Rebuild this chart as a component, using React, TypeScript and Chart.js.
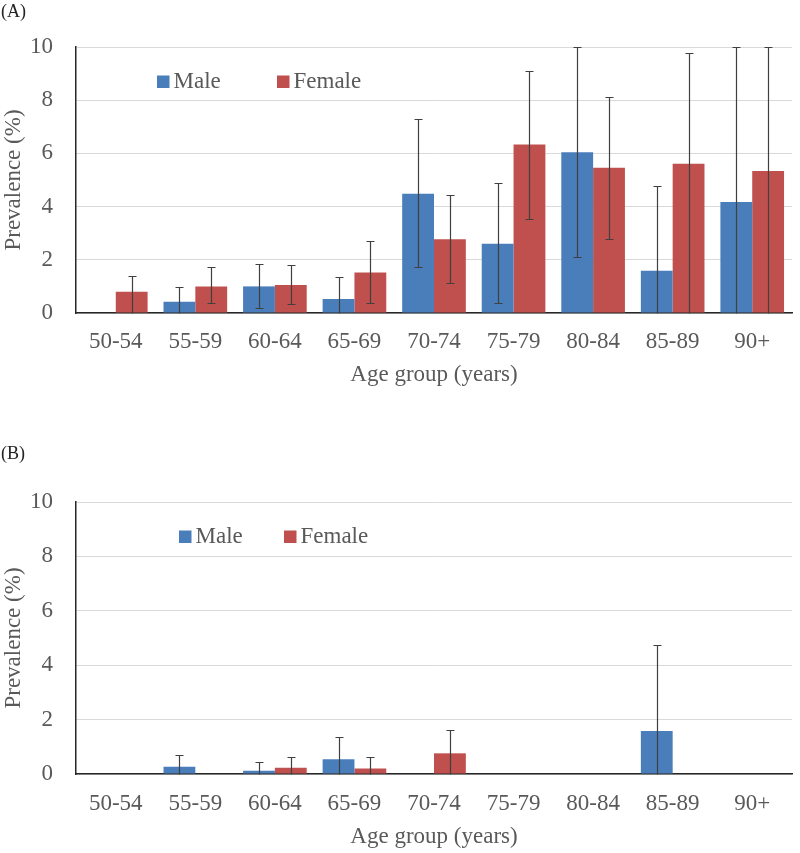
import React, { useEffect, useRef } from "react";
import { Chart, registerables } from "chart.js";

Chart.register(...registerables);

// ---------- data ----------
const categories = ["50-54", "55-59", "60-64", "65-69", "70-74", "75-79", "80-84", "85-89", "90+"];
const yTicks = [0, 2, 4, 6, 8, 10];

// Panel A
const maleA = [0, 0.42, 1.0, 0.53, 4.48, 2.6, 6.04, 1.59, 4.17];
const maleAUpper = [null, 0.97, 1.83, 1.36, 7.29, 4.9, 10, 4.79, 10];
const maleALower = [null, 0, 0.18, 0, 1.72, 0.36, 2.09, 0, 0];
const femaleA = [0.8, 1.0, 1.05, 1.52, 2.77, 6.33, 5.46, 5.61, 5.34];
const femaleAUpper = [1.39, 1.73, 1.8, 2.7, 4.44, 9.11, 8.13, 9.79, 10];
const femaleALower = [0, 0.37, 0.33, 0.37, 1.12, 3.53, 2.79, 0, 0];

// Panel B
const maleB = [0, 0.27, 0.12, 0.54, 0, 0, 0, 1.58, 0];
const maleBUpper = [null, 0.7, 0.45, 1.35, null, null, null, 4.75, null];
const maleBLower = [null, 0, 0, 0, null, null, null, 0, null];
const femaleB = [0, 0, 0.23, 0.2, 0.76, 0, 0, 0, 0];
const femaleBUpper = [null, null, 0.61, 0.61, 1.62, null, null, null, null];
const femaleBLower = [null, null, 0, 0, 0, null, null, null, null];

const seriesNames = ["Male", "Female"];
const xTitle = "Age group (years)";
const yTitle = "Prevalence (%)";

// ---------- style ----------
const BLUE = "#4A7EBB";
const RED = "#C0504D";
const TEXT = "#595959";
const FONT_FAMILY = "'Liberation Serif', 'Times New Roman', serif";

const errorBarPlugin = {
  id: "errorBars",
  afterDatasetsDraw(chart: any, _args: any, opts: any) {
    const { ctx } = chart;
    const y = chart.scales.y;
    const errs = opts.errors || [];
    ctx.save();
    ctx.strokeStyle = "#404040";
    ctx.lineWidth = 1.2;
    chart.data.datasets.forEach((_ds: any, di: number) => {
      const meta = chart.getDatasetMeta(di);
      const e = errs[di];
      if (!e) return;
      meta.data.forEach((bar: any, i: number) => {
        const hi = e.upper[i];
        if (hi == null) return;
        const lo = e.lower[i] ?? 0;
        const x = Math.round(bar.x) + 0.5;
        const yh = Math.round(y.getPixelForValue(hi)) + 0.5;
        const yl = Math.round(y.getPixelForValue(lo)) + 0.5;
        ctx.beginPath();
        ctx.moveTo(x, yh);
        ctx.lineTo(x, yl);
        ctx.moveTo(x - 4, yh);
        ctx.lineTo(x + 4, yh);
        if (lo > 0) {
          ctx.moveTo(x - 4, yl);
          ctx.lineTo(x + 4, yl);
        }
        ctx.stroke();
      });
    });
    ctx.restore();
  },
};

const insideLegendPlugin = {
  id: "insideLegend",
  afterDraw(chart: any, _args: any, opts: any) {
    const { ctx } = chart;
    ctx.save();
    ctx.font = `${opts.fontSize}px ${FONT_FAMILY}`;
    ctx.textBaseline = "alphabetic";
    ctx.textAlign = "left";
    chart.data.datasets.forEach((ds: any, i: number) => {
      const x = opts.xs[i];
      const base = opts.baseline;
      const s = opts.box;
      ctx.fillStyle = ds.backgroundColor;
      ctx.fillRect(x, base - s, s, s);
      ctx.fillStyle = TEXT;
      ctx.fillText(ds.label, x + s + 4, base);
    });
    ctx.restore();
  },
};

type PanelProps = {
  male: number[];
  female: number[];
  errors: { upper: (number | null)[]; lower: (number | null)[] }[];
  height: number;
  plotTop: number;
  plotBottom: number;
  tickPad: number;
  titlePadBottom: number;
  legendXs: number[];
  legendBaseline: number;
};

function Panel(p: PanelProps) {
  const ref = useRef<HTMLCanvasElement | null>(null);
  useEffect(() => {
    if (!ref.current) return;
    const font = { family: FONT_FAMILY, size: 23 };
    const chart = new Chart(ref.current, {
      type: "bar",
      data: {
        labels: categories,
        datasets: [
          { label: seriesNames[0], data: p.male, backgroundColor: BLUE, barPercentage: 1, categoryPercentage: 0.8 },
          { label: seriesNames[1], data: p.female, backgroundColor: RED, barPercentage: 1, categoryPercentage: 0.8 },
        ],
      },
      options: {
        responsive: false,
        animation: false,
        layout: { padding: { top: p.plotTop, left: 0, right: 8, bottom: 0 } },
        plugins: {
          legend: { display: false },
          tooltip: { enabled: false },
          errorBars: { errors: p.errors },
          insideLegend: { xs: p.legendXs, baseline: p.legendBaseline, box: 12.5, fontSize: 23 },
        } as any,
        scales: {
          x: {
            grid: { display: false, drawTicks: false },
            border: { display: true, color: "#262626", width: 1.5 },
            ticks: { color: TEXT, font, padding: p.tickPad, maxRotation: 0, autoSkip: false },
            title: { display: true, text: xTitle, color: TEXT, font, padding: { top: 0, bottom: p.titlePadBottom } },
            afterFit: (s: any) => {
              s.height = p.height - p.plotBottom;
            },
          },
          y: {
            min: 0,
            max: 10,
            afterBuildTicks: (s: any) => {
              s.ticks = yTicks.map((v) => ({ value: v }));
            },
            ticks: { color: TEXT, font, padding: 23 },
            grid: { color: "#d9d9d9", lineWidth: 1, drawTicks: false },
            border: { display: true, color: "#262626", width: 1.5 },
            title: { display: true, text: yTitle, color: TEXT, font, padding: { top: 0, bottom: 0 } },
            afterFit: (s: any) => {
              s.width = 76;
            },
          },
        },
      } as any,
      plugins: [errorBarPlugin, insideLegendPlugin],
    });
    return () => chart.destroy();
  }, []);
  return <canvas ref={ref} width={800} height={p.height} style={{ display: "block", width: 800, height: p.height }} />;
}

const labelStyle: React.CSSProperties = {
  position: "absolute",
  left: 1,
  fontFamily: FONT_FAMILY,
  fontSize: 18,
  lineHeight: "18px",
  color: "#222",
};

export default function App() {
  return (
    <div style={{ position: "absolute", left: 0, top: 0, width: 800, height: 853, background: "#fff" }}>
      <div style={{ position: "absolute", left: 0, top: 0 }}>
        <Panel
          male={maleA}
          female={femaleA}
          errors={[
            { upper: maleAUpper, lower: maleALower },
            { upper: femaleAUpper, lower: femaleALower },
          ]}
          height={420}
          plotTop={47}
          plotBottom={313}
          tickPad={15}
          titlePadBottom={31}
          legendXs={[157, 277]}
          legendBaseline={88}
        />
      </div>
      <div style={{ position: "absolute", left: 0, top: 420 }}>
        <Panel
          male={maleB}
          female={femaleB}
          errors={[
            { upper: maleBUpper, lower: maleBLower },
            { upper: femaleBUpper, lower: femaleBLower },
          ]}
          height={433}
          plotTop={82}
          plotBottom={354}
          tickPad={16}
          titlePadBottom={2}
          legendXs={[179, 284]}
          legendBaseline={123}
        />
      </div>
      <div style={{ ...labelStyle, top: 2 }}>(A)</div>
      <div style={{ ...labelStyle, top: 444 }}>(B)</div>
    </div>
  );
}
